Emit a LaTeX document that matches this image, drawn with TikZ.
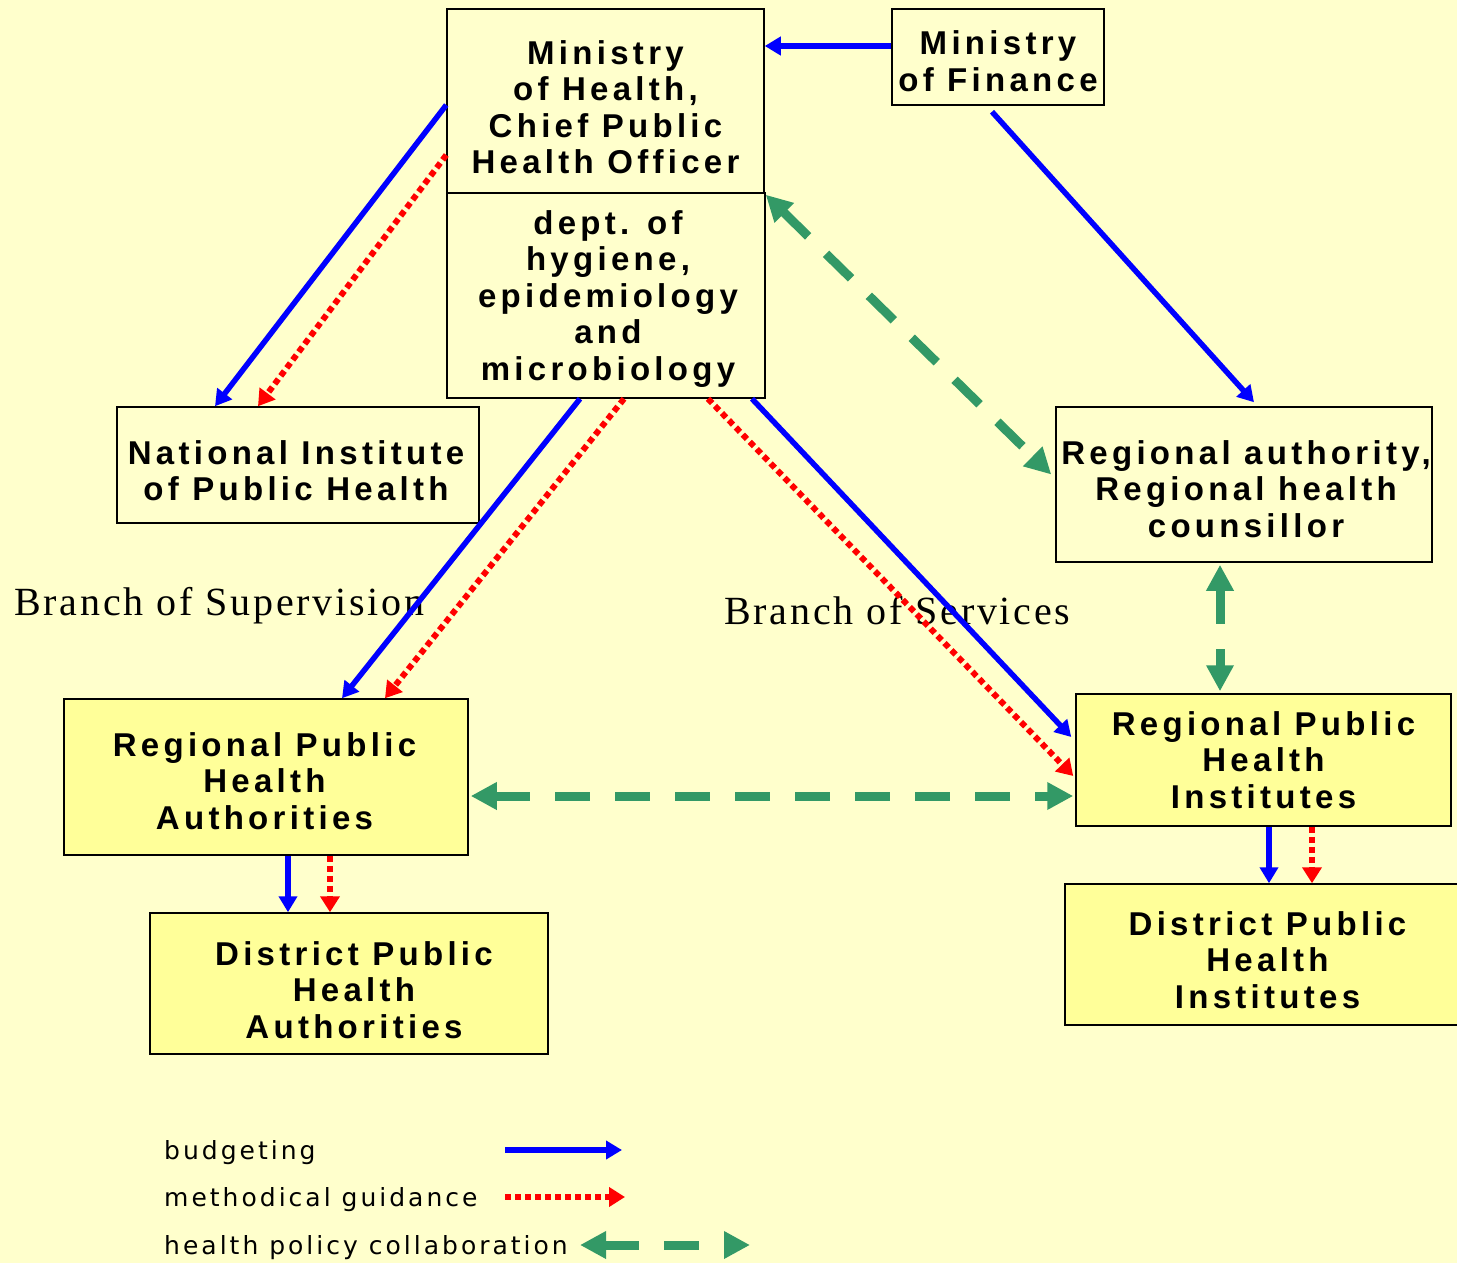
\documentclass[tikz,border=0pt]{standalone}
\usepackage{fontspec}
\setmainfont{Liberation Serif}
\newfontfamily\bxfont[LetterSpace=13]{Liberation Sans}
\newfontfamily\lgfont[LetterSpace=12]{DejaVu Sans}
\newfontfamily\brfont[LetterSpace=7]{Liberation Serif}
\usetikzlibrary{arrows.meta,calc}
\definecolor{bg}{HTML}{FFFFCC}
\definecolor{lowfill}{HTML}{FFFF99}
\definecolor{grn}{HTML}{339966}
\begin{document}
\begin{tikzpicture}[x=1pt,y=-1pt,
 box/.style={draw=black, line width=1.5pt, fill=bg, inner sep=0pt},
 lowbox/.style={box, fill=lowfill},
 btext/.style={inner sep=0pt, align=center, font=\bxfont\bfseries\fontsize{33}{36.5}\selectfont},
 bud/.style={draw=blue, line width=5.5pt, -{Triangle[length=16pt,width=18pt]}},
 met/.style={draw=red, line width=6pt, dash pattern=on 6pt off 4pt, -{Triangle[length=16pt,width=19pt]}},
 col/.style={draw=grn, line width=9pt, dash pattern=on 35pt off 25pt,
   {Triangle[length=26pt,width=26pt]}-{Triangle[length=26pt,width=26pt]}},
 branch/.style={font=\brfont\fontsize{40}{44}\selectfont, anchor=base west, inner sep=0pt},
 legend/.style={font=\lgfont\fontsize{25}{29}\selectfont, anchor=base west, inner sep=0pt},
]
\fill[bg] (0,0) rectangle (1457,1263);
\useasboundingbox (0,0) rectangle (1457,1263);

% boxes
\node[box, minimum width=317pt, minimum height=184pt] (moh) at (605.5,101) {};
\node[box, minimum width=318pt, minimum height=205pt] (dept) at (606,295.5) {};
\node[box, minimum width=212pt, minimum height=96pt] (mof) at (998,57) {};
\node[box, minimum width=362pt, minimum height=116pt] (niph) at (298,465) {};
\node[box, minimum width=376pt, minimum height=155pt] (rega) at (1244,484.5) {};
\node[lowbox, minimum width=404pt, minimum height=156pt] (rpha) at (266,777) {};
\node[lowbox, minimum width=398pt, minimum height=141pt] (dpha) at (349,983.5) {};
\node[lowbox, minimum width=375pt, minimum height=132pt] (rphi) at (1263.5,760) {};
\node[lowbox, minimum width=405pt, minimum height=141pt] (dphi) at (1267.5,954.5) {};

% box texts
\node[btext] (mohT) at ($(moh)+(0,6)$) {Ministry\\of Health,\\Chief Public\\Health Officer};
\node[btext] (deptT) at ($(dept)+(2,3.5)$) {dept. of\\hygiene,\\epidemiology\\and\\microbiology};
\node[btext] (mofT) at ($(mof)+(0,4)$) {Ministry\\of Finance};
\node[btext] (niphT) at ($(niph)+(-2,5.5)$) {National Institute\\of Public Health};
\node[btext] (regaT) at ($(rega)+(2,4.5)$) {Regional authority,\\Regional health\\counsillor};
\node[btext] (rphaT) at ($(rpha)+(-1.5,4)$) {Regional Public\\Health\\Authorities};
\node[btext] (dphaT) at ($(dpha)+(5,6.5)$) {District Public\\Health\\Authorities};
\node[btext] (rphiT) at ($(rphi)+(0,0)$) {Regional Public\\Health\\Institutes};
\node[btext] (dphiT) at ($(dphi)+(0,5.5)$) {District Public\\Health\\Institutes};

% branch labels
\node[branch] (bsup) at (14,615) {Branch of Supervision};
\node[branch] (bser) at (724,624) {Branch of Services};

% connectors
\draw[bud] ($(mof.west)+(0,-11)$) -- ($(moh.east)+(0,-55)$);
\draw[bud] ($(mof.south)+(-6,6)$) -- ($(rega.north)+(10,-4)$);
\draw[bud] ($(moh.west)+(0,4)$) -- ($(niph.north)+(-83,0)$);
\draw[met] ($(moh.west)+(0,54)$) -- ($(niph.north)+(-40,0)$);
\draw[bud] ($(dept.south)+(-26,0)$) -- ($(rpha.north)+(76,0)$);
\draw[met] ($(dept.south)+(18,0)$) -- ($(rpha.north)+(119,0)$);
\draw[bud] ($(dept.south)+(146,0)$) -- ($(rphi.west)+(-4,-23)$);
\draw[met] ($(dept.south)+(102,0)$) -- ($(rphi.west)+(-2,16)$);
\draw[col] ($(moh.south east)+(1,1)$) -- ($(rega.west)+(-4,-10)$);
\draw[col] ($(rega.south)+(-24,2)$) -- ($(rphi.north)+(-43.5,-2)$);
\draw[col] ($(rpha.east)+(2,19)$) -- ($(rphi.west)+(-2,36)$);
\coordinate (ra) at ($(rpha.south)+(22,0)$);
\coordinate (rb) at ($(rpha.south)+(64,0)$);
\draw[bud] (ra) -- (ra |- dpha.north);
\draw[met] (rb) -- (rb |- dpha.north);
\coordinate (ia) at ($(rphi.south)+(5.5,0)$);
\coordinate (ib) at ($(rphi.south)+(48.5,0)$);
\draw[bud] (ia) -- (ia |- dphi.north);
\draw[met] (ib) -- (ib |- dphi.north);

% legend
\node[legend] (lbud) at (164,1159) {budgeting};
\node[legend] (lmet) at (164,1206) {methodical guidance};
\node[legend] (lcol) at (164,1254) {health policy collaboration};
\coordinate (b1) at (505,1150); \coordinate (b2) at (622,1150);
\coordinate (m1) at (505,1197); \coordinate (m2) at (625,1197);
\coordinate (c1) at (580,1245); \coordinate (c2) at (750,1245);
\draw[bud] (b1) -- (b2);
\draw[met] (m1) -- (m2);
\draw[col] (c1) -- (c2);
\end{tikzpicture}
\end{document}
